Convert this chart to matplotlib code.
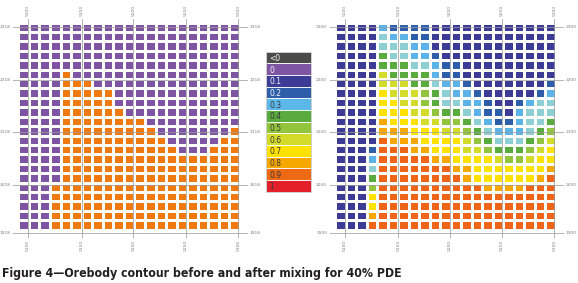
import numpy as np
import matplotlib
matplotlib.use("Agg")
import matplotlib.pyplot as plt
from matplotlib.colors import ListedColormap
from matplotlib.patches import Rectangle

# ---------------- data ----------------
# cell codes: '0'..'9' -> 0.0..0.9, 'X' -> 1.0, 'T' -> 0.35 (pale teal, between 0.3 and 0.4)
before_rows = [
    "000000000000000000000",
    "000000000000000000000",
    "000000000000000000000",
    "000000000000000000000",
    "000000000000000000000",
    "000090000000000000000",
    "000099900000000000000",
    "000099999000000000000",
    "000099999000000000000",
    "000099999900000000000",
    "000099999999000000000",
    "000099999999900000009",
    "000099999999990000099",
    "000099999999999000999",
    "000099999999999999999",
    "000099999999999999999",
    "000099999999999999999",
    "000999999999999999999",
    "000999999999999999999",
    "000999999999999999999",
    "000999999999999999999",
    "000999999999999999999",
]
after_rows = [
    "111132222111111111111",
    "1111T3322111111111111",
    "1111TTT33111111111111",
    "11114TT33211111111111",
    "1111444TT322111111111",
    "111164444322111111111",
    "111166644T33211111112",
    "1111766654T3321111123",
    "1111776654TT3321123TT",
    "111177766544T32213TTT",
    "1111877766554T3223TT4",
    "11118887776654T333T45",
    "111198887777654TTT456",
    "111299988777665444567",
    "111399999887777655677",
    "111T99999998877777778",
    "111499999999877777789",
    "111599999999998888999",
    "111799999999999999999",
    "111799999999999999999",
    "111899999999999999999",
    "111999999999999999999",
]
legend_labels = ["<0", "0", "0.1", "0.2", "0.3", "0.4", "0.5", "0.6", "0.7", "0.8", "0.9", "1"]
legend_colors = ["#4b4b49", "#7e55a3", "#3c3c96", "#2e5daa", "#5cb8e8", "#5aab3e",
                 "#93c43e", "#d3dc2a", "#ffe200", "#f6a800", "#ee6a14", "#e3202a"]
left_ylabels = ["2318", "2218", "2118", "2018", "1918"]
right_ylabels = ["2300", "2200", "2100", "2000", "1900"]
left_xlabels = ["5100", "5150", "5200", "5250", "5300"]
right_xlabels = ["5100", "5150", "5200", "5250", "5300"]
caption = "Figure 4\u2014Orebody contour before and after mixing for 40% PDE"

code_values = {"0": 0.0, "1": 0.1, "2": 0.2, "3": 0.3, "T": 0.35, "4": 0.4, "5": 0.5,
               "6": 0.6, "7": 0.7, "8": 0.8, "9": 0.9, "X": 1.0}
class_values = [0.0, 0.1, 0.2, 0.3, 0.35, 0.4, 0.5, 0.6, 0.7, 0.8, 0.9, 1.0]
class_colors_right = ["#7e55a3", "#3c3c96", "#2e5daa", "#5cb3e8", "#8ecfd3", "#5aab3e",
                      "#93c43e", "#d3dc2a", "#ffe200", "#f6a800", "#ee6418", "#e3202a"]
class_colors_left = list(class_colors_right)
class_colors_left[10] = "#f07a12"


def to_grid(rows):
    vals = np.array([[code_values[c] for c in r] for r in rows])
    idx = np.zeros(vals.shape, dtype=int)
    for k, v in enumerate(class_values):
        idx[np.isclose(vals, v)] = k
    return idx


W, H = 578, 283
fig = plt.figure(figsize=(W / 100, H / 100), dpi=100)
fig.patch.set_facecolor("white")


def rect(x0, x1, y0, y1):
    return [x0 / W, 1 - y1 / H, (x1 - x0) / W, (y1 - y0) / H]


GRID = "#9c9c9c"
LAB = "#808080"
xt_pos = [0.93, 6.0, 10.9, 15.85, 20.85]
yt_pos = [0.46, 6.06, 11.6, 17.27, 22.38]


def draw_panel(ax, rows, colors, ylabels, xlabels):
    idx = to_grid(rows)
    nrow, ncol = idx.shape
    ax.pcolormesh(np.arange(ncol + 1), np.arange(nrow + 1), idx,
                  cmap=ListedColormap(colors), vmin=-0.5, vmax=len(colors) - 0.5,
                  edgecolors="white", linewidth=0.9)
    ax.set_xlim(0, ncol)
    ax.set_ylim(nrow, 0)
    ax.axis("off")
    for xt, lab in zip(xt_pos, xlabels):
        ax.plot([xt, xt], [-0.4, 22.8], color=GRID, lw=0.7, alpha=0.75,
                clip_on=False, zorder=3)
        ax.text(xt, -0.7, lab, rotation=90, ha="center", va="bottom",
                fontsize=3.2, color=LAB)
        ax.text(xt, 23.1, lab, rotation=90, ha="center", va="top",
                fontsize=3.2, color=LAB)
    for yt, lab in zip(yt_pos, ylabels):
        ax.plot([-0.5, 21.7], [yt, yt], color=GRID, lw=0.7, alpha=0.75,
                clip_on=False, zorder=3)
        ax.text(-0.75, yt, lab, ha="right", va="center", fontsize=3.2, color=LAB)
        ax.text(21.9, yt, lab, ha="left", va="center", fontsize=3.2, color=LAB)


axL = fig.add_axes(rect(18.3, 240, 22.7, 229.5))
draw_panel(axL, before_rows, class_colors_left, left_ylabels, left_xlabels)
axR = fig.add_axes(rect(335, 556, 22.7, 229.5))
draw_panel(axR, after_rows, class_colors_right, right_ylabels, right_xlabels)

# legend
axLg = fig.add_axes(rect(266, 311, 51.7, 191.7))
axLg.set_xlim(0, 1)
axLg.set_ylim(len(legend_labels), 0)
axLg.axis("off")
for i, (lab, col) in enumerate(zip(legend_labels, legend_colors)):
    axLg.add_patch(Rectangle((0, i), 1, 1, facecolor=col, edgecolor="white", lw=0.6))
    tc = "#f4f4f4" if i < 4 else "#3a3a3a"
    axLg.text(0.07, i + 0.58, lab, ha="left", va="center", fontsize=5.5, color=tc)
axLg.add_patch(Rectangle((0, 0), 1, len(legend_labels), facecolor="none",
                         edgecolor="#c8c8c8", lw=0.6, clip_on=False))

fig.text(2 / W, 1 - 273 / H, caption, fontsize=8.8, fontweight="bold",
         family="DejaVu Sans", fontstretch="condensed", ha="left", va="center",
         color="#231f20")

fig.savefig("out.png", dpi=100, facecolor="white")
